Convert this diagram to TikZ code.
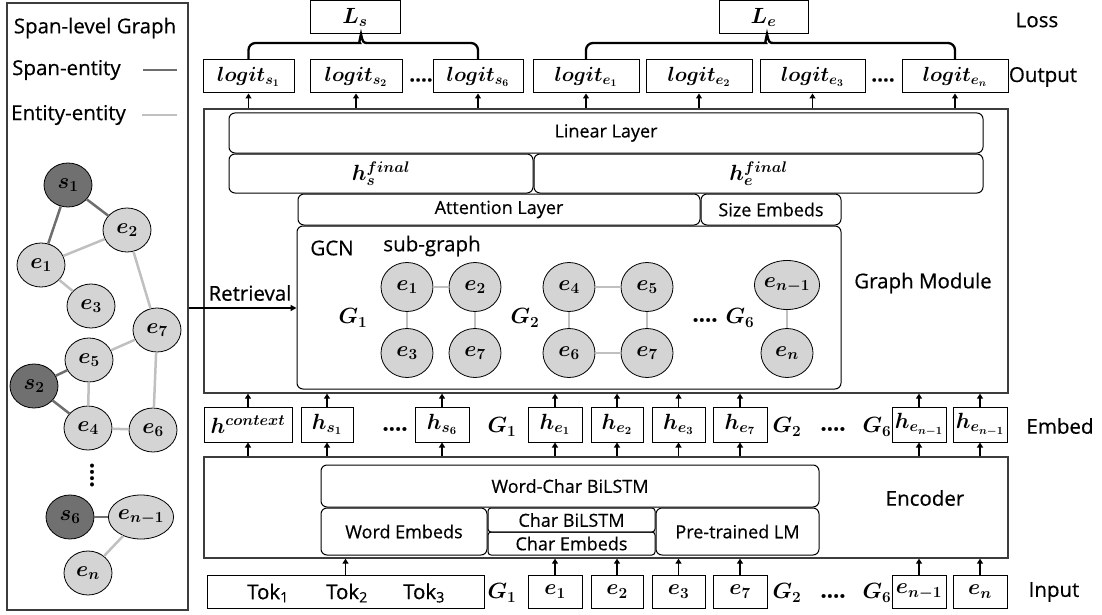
\RequirePackage{fix-cm}
\documentclass[tikz,border=0pt]{standalone}
\usepackage{amsmath,bm}
\usepackage{fontspec}
\setmainfont{Open Sans}[FakeBold=0.5]
\usetikzlibrary{arrows.meta,shapes.geometric}
\definecolor{sdark}{RGB}{112,112,112}
\definecolor{elight}{RGB}{212,212,212}
\definecolor{edark}{RGB}{110,110,110}
\definecolor{elt}{RGB}{192,192,192}
\definecolor{frame}{RGB}{60,60,60}
\tikzset{
  bx/.style={draw=black, line width=1pt, inner sep=0pt},
  rbx/.style={draw=black, line width=1pt, inner sep=0pt, rounded corners=6pt},
  frm/.style={draw=frame, line width=1.3pt, inner sep=0pt},
  snode/.style={ellipse, draw=black, line width=0.8pt, fill=sdark, inner sep=0pt, minimum width=48pt, minimum height=44pt},
  enode/.style={ellipse, draw=black, line width=0.8pt, fill=elight, inner sep=0pt, minimum width=48pt, minimum height=44pt},
  gnode/.style={ellipse, draw=black, line width=0.8pt, fill=elight, inner sep=0pt, minimum width=52pt, minimum height=49pt},
  dk/.style={draw=edark, line width=2.5pt},
  lt/.style={draw=elt, line width=2.5pt},
  arr/.style={draw=black, line width=1.8pt, -{Triangle[length=5pt,width=6pt]}},
  brace/.style={draw=black, line width=2.3pt},
  lbl/.style={inner sep=0pt},
  big/.style={inner sep=0pt, font=\fontsize{20.5}{24}\selectfont},
  mth/.style={font=\fontsize{22}{26}\selectfont},
  lgt/.style={font=\fontsize{20.5}{24}\selectfont},
}
\begin{document}
\begin{tikzpicture}[x=1pt,y=-1pt, font=\fontsize{18}{21}\selectfont]
\useasboundingbox (0,0) rectangle (1102,615);
% ---------------- left panel
\node[frm, minimum width=181pt, minimum height=607pt] (panel) at (97.5,306.5) {};
\node[big] (title) at (95,28) {Span-level Graph};
\node[big, anchor=west] (tse) at (12,70) {Span-entity};
\node[big, anchor=west] (tee) at (11,115) {Entity-entity};
\coordinate (la1) at (143,70); \coordinate (la2) at (177,70);
\coordinate (lb1) at (142,115); \coordinate (lb2) at (177,115);
\draw[dk] (la1) -- (la2);
\draw[lt] (lb1) -- (lb2);
\begin{scope}[mth]
\node[snode] (s1) at (68,185) {$\bm{s_1}$};
\node[enode] (e2) at (127,230) {$\bm{e_2}$};
\node[enode] (e1) at (41,265) {$\bm{e_1}$};
\node[enode] (e3) at (91,306) {$\bm{e_3}$};
\node[enode] (e7) at (157,330) {$\bm{e_7}$};
\node[enode] (e5) at (89,360) {$\bm{e_5}$};
\node[snode] (s2) at (34,386) {$\bm{s_2}$};
\node[enode] (e4) at (88,428) {$\bm{e_4}$};
\node[enode] (e6) at (153,430) {$\bm{e_6}$};
\node[lbl, rotate=90] (vd) at (92,475) {\textbf{....}};
\node[snode] (s6) at (70,517) {$\bm{s_6}$};
\node[enode] (enm) at (141,517) {$\bm{e_{n-1}}$};
\node[enode] (en) at (88,573) {$\bm{e_n}$};
\end{scope}
\draw[dk] (s1) -- (e1);
\draw[dk] (s1) -- (e2);
\draw[lt] (e1) -- (e2);
\draw[lt] (e1) -- (e3);
\draw[lt] (e2) -- (e7);
\draw[lt] (e7) -- (e5);
\draw[lt] (e7) -- (e6);
\draw[dk] (s2) -- (e5);
\draw[dk] (s2) -- (e4);
\draw[lt] (e5) -- (e4);
\draw[lt] (e4) -- (e6);
\draw[dk] (s6) -- (enm);
\draw[lt] (enm) -- (en);
% ---------------- loss
\begin{scope}[mth]
\node[bx, minimum width=90pt, minimum height=33pt] (Ls) at (355,17.5) {$\bm{L_s}$};
\node[bx, minimum width=89pt, minimum height=33pt] (Le) at (763.5,17.5) {$\bm{L_e}$};
\end{scope}
% output
\begin{scope}[lgt]
\node[bx, minimum width=91pt, minimum height=33pt] (os1) at (248.5,76.5) {$\bm{logit_{s_1}}$};
\node[bx, minimum width=92pt, minimum height=33pt] (os2) at (356,76.5) {$\bm{logit_{s_2}}$};
\node[lbl] (od1) at (421,80) {\textbf{....}};
\node[bx, minimum width=90pt, minimum height=33pt] (os6) at (478,76.5) {$\bm{logit_{s_6}}$};
\node[bx, minimum width=106pt, minimum height=33pt] (oe1) at (586,76.5) {$\bm{logit_{e_1}}$};
\node[bx, minimum width=106pt, minimum height=33pt] (oe2) at (699,76.5) {$\bm{logit_{e_2}}$};
\node[bx, minimum width=105pt, minimum height=33pt] (oe3) at (812.5,76.5) {$\bm{logit_{e_3}}$};
\node[lbl] (od2) at (883,80) {\textbf{....}};
\node[bx, minimum width=106pt, minimum height=33pt] (oen) at (955,76.5) {$\bm{logit_{e_n}}$};
\end{scope}
\coordinate (tipS) at (361,34); \coordinate (tipE) at (767,34);
\draw[brace] (os1.north) [rounded corners=7pt] |- (353,43) [sharp corners] .. controls (359,43) .. (tipS) .. controls (363,43) .. (369,43) [rounded corners=7pt] -| (os6.north);
\draw[brace] (oe1.north) [rounded corners=7pt] |- (759,43) [sharp corners] .. controls (765,43) .. (tipE) .. controls (769,43) .. (775,43) [rounded corners=7pt] -| (oen.north);
\node[big] (tloss) at (1037,20) {Loss};
\node[big] (tout) at (1043,77) {Output};
% ---------------- graph module
\node[frm, minimum width=804pt, minimum height=284pt] (gm) at (606,251) {};
\node[rbx, minimum width=754pt, minimum height=40pt] (lin) at (606,133) {Linear Layer};
\node[rbx, mth, minimum width=304pt, minimum height=39pt] (hsf) at (381,173.5) {$\bm{h_s^{final}}$};
\node[rbx, mth, minimum width=449pt, minimum height=39pt] (hef) at (758.5,173.5) {$\bm{h_e^{final}}$};
\node[rbx, minimum width=402pt, minimum height=31pt] (att) at (499,209.5) {Attention Layer};
\node[rbx, minimum width=140pt, minimum height=31pt] (sze) at (771,209.5) {Size Embeds};
\node[rbx, minimum width=544pt, minimum height=163pt] (gcn) at (569,307.5) {};
\node[big] (tgcn) at (332,248) {GCN};
\node[big] (tsub) at (432,246) {sub-graph};
\begin{scope}[mth]
\node[gnode] (g1a) at (407,287) {$\bm{e_1}$};
\node[gnode] (g1b) at (475,287) {$\bm{e_2}$};
\node[gnode] (g1c) at (407,353) {$\bm{e_3}$};
\node[gnode] (g1d) at (475,353) {$\bm{e_7}$};
\node[lbl] (G1) at (353,318) {$\bm{G_1}$};
\node[gnode] (g2a) at (569,287) {$\bm{e_4}$};
\node[gnode] (g2b) at (647,287) {$\bm{e_5}$};
\node[gnode] (g2c) at (569,353) {$\bm{e_6}$};
\node[gnode] (g2d) at (647,353) {$\bm{e_7}$};
\node[lbl] (G2) at (525,318) {$\bm{G_2}$};
\node[lbl] (gd) at (705,320) {\textbf{....}};
\node[lbl] (G6) at (740,318) {$\bm{G_6}$};
\node[gnode] (g6a) at (787,285) {$\bm{e_{n-1}}$};
\node[gnode] (g6b) at (787,353) {$\bm{e_n}$};
\end{scope}
\draw[lt] (g1a) -- (g1b);
\draw[lt] (g1a) -- (g1c);
\draw[lt] (g1b) -- (g1d);
\draw[lt] (g2a) -- (g2b);
\draw[lt] (g2a) -- (g2c);
\draw[lt] (g2b) -- (g2d);
\draw[lt] (g2c) -- (g2d);
\draw[lt] (g6a) -- (g6b);
\node[big] (tgm) at (923,283) {Graph Module};
\coordinate (ry) at (0,308);
\node[big] (tret) at (250,293) {Retrieval};
\draw[draw=black, line width=1.5pt, -{Triangle[length=6pt,width=6pt]}] (panel.east |- ry) -- (gcn.west |- ry);
% output arrows
\foreach \n in {os1,os2,os6,oe1,oe2,oe3,oen} \draw[arr] (\n.south |- gm.north) -- (\n.south);
% ---------------- embed row
\begin{scope}[mth]
\node[bx, minimum width=88pt, minimum height=35pt] (hc) at (248,424.5) {$\bm{h^{context}}$};
\node[bx, minimum width=52pt, minimum height=35pt] (hs1) at (327,424.5) {$\bm{h_{s_1}}$};
\node[lbl] (hd1) at (395,429) {\textbf{....}};
\node[bx, minimum width=54pt, minimum height=35pt] (hs6) at (442,424.5) {$\bm{h_{s_6}}$};
\node[lbl] (hG1) at (502,427) {$\bm{G_1}$};
\node[bx, minimum width=54pt, minimum height=35pt] (he1) at (555,424.5) {$\bm{h_{e_1}}$};
\node[bx, minimum width=52pt, minimum height=35pt] (he2) at (617,424.5) {$\bm{h_{e_2}}$};
\node[bx, minimum width=53pt, minimum height=35pt] (he3) at (678.5,424.5) {$\bm{h_{e_3}}$};
\node[bx, minimum width=54pt, minimum height=35pt] (he7) at (740,424.5) {$\bm{h_{e_7}}$};
\node[lbl] (hG2) at (787,427) {$\bm{G_2}$};
\node[lbl] (hd2) at (833,429) {\textbf{....}};
\node[lbl] (hG6) at (877,427) {$\bm{G_6}$};
\node[bx, minimum width=54pt, minimum height=35pt] (hen1) at (919,424.5) {$\bm{h_{e_{n-1}}}$};
\node[bx, minimum width=54pt, minimum height=35pt] (hen2) at (980,424.5) {$\bm{h_{e_{n-1}}}$};
\end{scope}
\node[big] (temb) at (1060,426) {Embed};
% ---------------- encoder
\node[frm, minimum width=804pt, minimum height=101pt] (enc) at (606,507.5) {};
\node[rbx, minimum width=498pt, minimum height=42pt] (wcb) at (570,486) {Word-Char BiLSTM};
\node[rbx, minimum width=166pt, minimum height=47pt] (we) at (404,531.5) {Word Embeds};
\node[rbx, rounded corners=3pt, minimum width=167pt, minimum height=24pt] (cb) at (571.5,520) {Char BiLSTM};
\node[rbx, rounded corners=3pt, minimum width=167pt, minimum height=23pt] (ce) at (571.5,543.5) {Char Embeds};
\node[rbx, minimum width=163pt, minimum height=47pt] (plm) at (737.5,531.5) {Pre-trained LM};
\node[big] (tenc) at (925,498) {Encoder};
% ---------------- input row
\node[bx, minimum width=277pt, minimum height=33pt] (tok) at (345.5,591.5) {};
\node[big] (t1) at (268,593) {Tok\textsubscript{1}};
\node[big] (t2) at (347,593) {Tok\textsubscript{2}};
\node[big] (t3) at (424,593) {Tok\textsubscript{3}};
\begin{scope}[mth]
\node[lbl] (iG1) at (502,593) {$\bm{G_1}$};
\node[bx, minimum width=54pt, minimum height=33pt] (ie1) at (555,591.5) {$\bm{e_1}$};
\node[bx, minimum width=52pt, minimum height=33pt] (ie2) at (617,591.5) {$\bm{e_2}$};
\node[bx, minimum width=53pt, minimum height=33pt] (ie3) at (678.5,591.5) {$\bm{e_3}$};
\node[bx, minimum width=54pt, minimum height=33pt] (ie7) at (740,591.5) {$\bm{e_7}$};
\node[lbl] (iG2) at (787,593) {$\bm{G_2}$};
\node[lbl] (id) at (833,596) {\textbf{....}};
\node[lbl] (iG6) at (877,593) {$\bm{G_6}$};
\node[bx, minimum width=54pt, minimum height=33pt] (ien1) at (919,591.5) {$\bm{e_{n-1}}$};
\node[bx, minimum width=54pt, minimum height=33pt] (ien) at (980,591.5) {$\bm{e_n}$};
\end{scope}
\node[big] (tin) at (1054,592) {Input};
% arrows
\foreach \n in {hc,hs1,hs6,he1,he2,he3,he7,hen1,hen2} {
  \draw[arr] (\n.north) -- (\n.north |- gm.south);
  \draw[arr] (\n.south |- enc.north) -- (\n.south);
}
\foreach \n in {tok,ie1,ie2,ie3,ie7,ien1,ien} \draw[arr] (\n.north) -- (\n.north |- enc.south);
\end{tikzpicture}
\end{document}
